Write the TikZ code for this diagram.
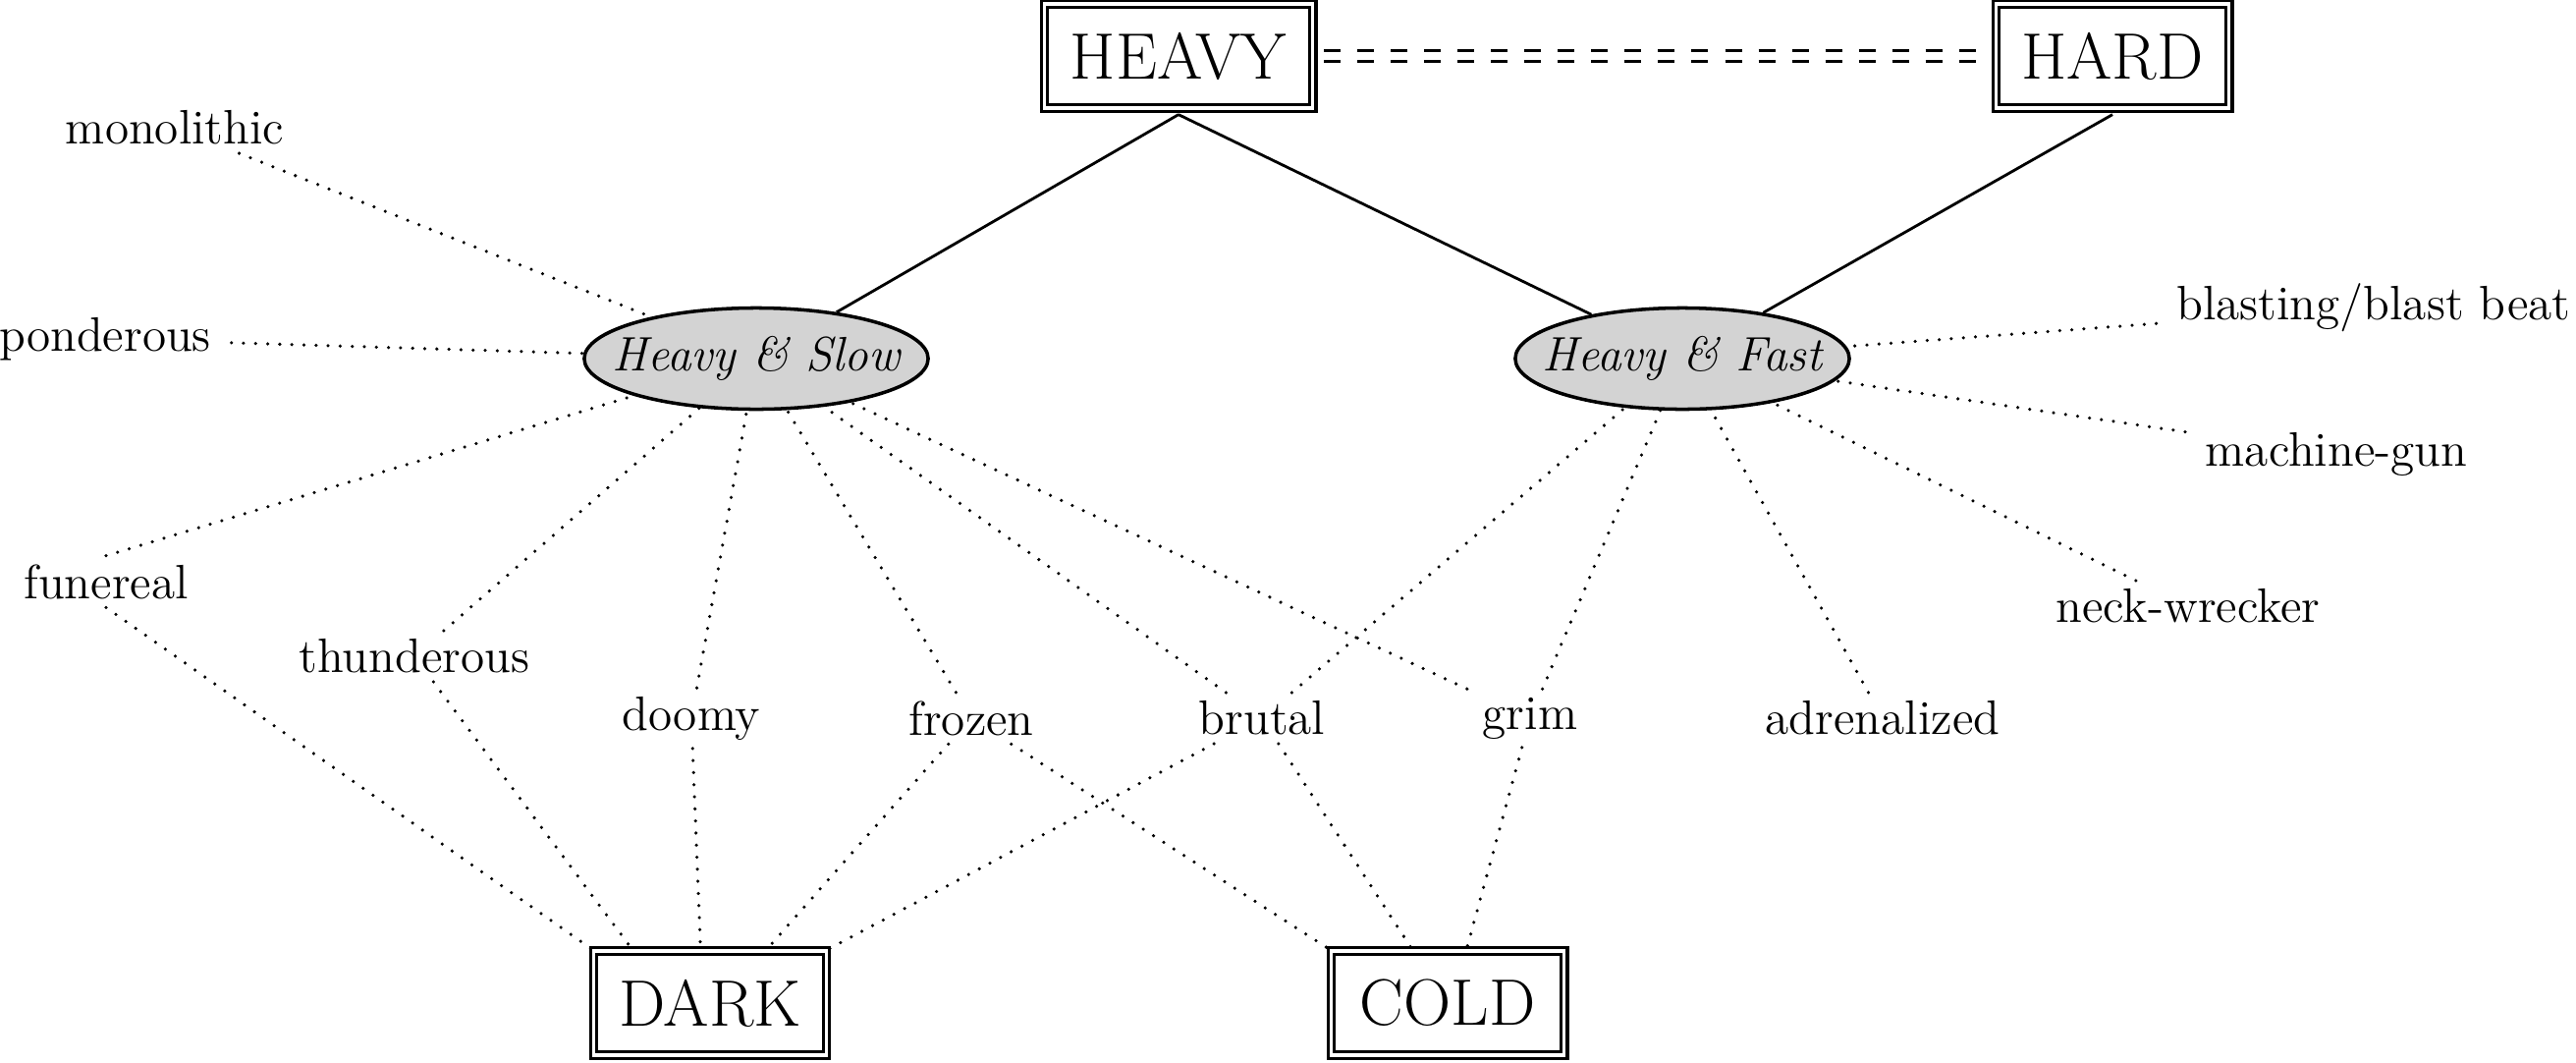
\documentclass[tikz,border=0pt]{standalone}
\usepackage{fontspec}
\usetikzlibrary{shapes.geometric,calc}
\definecolor{lgray}{RGB}{211,211,211}
\begin{document}
\begin{tikzpicture}[x=0.01cm,y=-0.01cm,
  box/.style={draw, double, line width=0.95pt, double distance=0.9pt,
    minimum height=1.06cm, minimum width=2.37cm, inner sep=0pt,
    font=\fontsize{19}{21}\selectfont},
  ell/.style={ellipse, draw, fill=lgray, line width=1pt, minimum width=3.5cm,
    minimum height=1.03cm, inner xsep=-0.25cm, inner ysep=0pt,
    font=\fontsize{14}{16}\selectfont\itshape},
  word/.style={inner xsep=0.2cm, inner ysep=0.08cm, font=\fontsize{14}{16}\selectfont},
  solidedge/.style={line width=0.8pt},
  dots/.style={line width=1pt, line cap=round, dash pattern=on 0pt off 3.5pt},
  dbl/.style={line width=1pt, dash pattern=on 0.17cm off 0.17cm, shorten <=0.1cm, shorten >=0.1cm}]
\useasboundingbox (0,0) rectangle (2623,1081);

% main nodes
\node[box, minimum width=2.73cm] (heavy) at (1200,57) {HEAVY};
\node[box] (hard) at (2151,57) {HARD};
\node[ell] (hs) at (770,365) {Heavy \& Slow};
\node[ell, minimum width=3.4cm] (hf) at (1713,365) {Heavy \& Fast};
\node[box] (dark) at (723,1021) {DARK};
\node[box] (cold) at (1474,1021) {COLD};

% words
\node[word] (monolithic) at (178,130) {monolithic};
\node[word] (ponderous) at (107,345) {ponderous};
\node[word] (funereal) at (108,592) {funereal};
\node[word] (thunderous) at (422,668) {thunderous};
\node[word] (doomy) at (704,731) {doomy};
\node[word] (frozen) at (989,731) {frozen};
\node[word] (brutal) at (1285,731) {brutal};
\node[word] (grim) at (1558,731) {grim};
\node[word] (adrenalized) at (1917,731) {adrenalized};
\node[word] (neckwrecker) at (2228,617) {neck-wrecker};
\node[word] (machinegun) at (2379,462) {machine-gun};
\node[word, anchor=east] (blasting) at (2638,313) {blasting/blast beat};

% solid edges
\draw[solidedge] ([yshift=-1.4pt]heavy.south) -- (hs);
\draw[solidedge] ([yshift=-1.4pt]heavy.south) -- (hf);
\draw[solidedge] ([yshift=-1.4pt]hard.south) -- (hf);

% double dashed
\draw[dbl] ([yshift=0.055cm]heavy.east) -- ([yshift=0.055cm]hard.west);
\draw[dbl] ([yshift=-0.055cm]heavy.east) -- ([yshift=-0.055cm]hard.west);

% Heavy & Slow
\draw[dots] (funereal.north) -- (hs);
\foreach \w in {monolithic,ponderous,thunderous,doomy,frozen,brutal,grim}
  \draw[dots] (\w) -- (hs);
% Heavy & Fast
\foreach \w in {blasting,machinegun,neckwrecker,adrenalized,grim,brutal}
  \draw[dots] (\w) -- (hf);

% DARK
\draw[dots] (funereal.south) -- (dark.north west);
\draw[dots] (thunderous) -- ($(dark.north west)!0.17!(dark.north east)$);
\draw[dots] (doomy) -- ($(dark.north west)!0.46!(dark.north east)$);
\draw[dots] (frozen) -- ($(dark.north west)!0.74!(dark.north east)$);
\draw[dots] (brutal) -- (dark.north east);

% COLD
\draw[dots] (frozen) -- (cold.north west);
\draw[dots] (brutal) -- ($(cold.north west)!0.35!(cold.north east)$);
\draw[dots] (grim) -- ($(cold.north west)!0.58!(cold.north east)$);
\end{tikzpicture}
\end{document}
